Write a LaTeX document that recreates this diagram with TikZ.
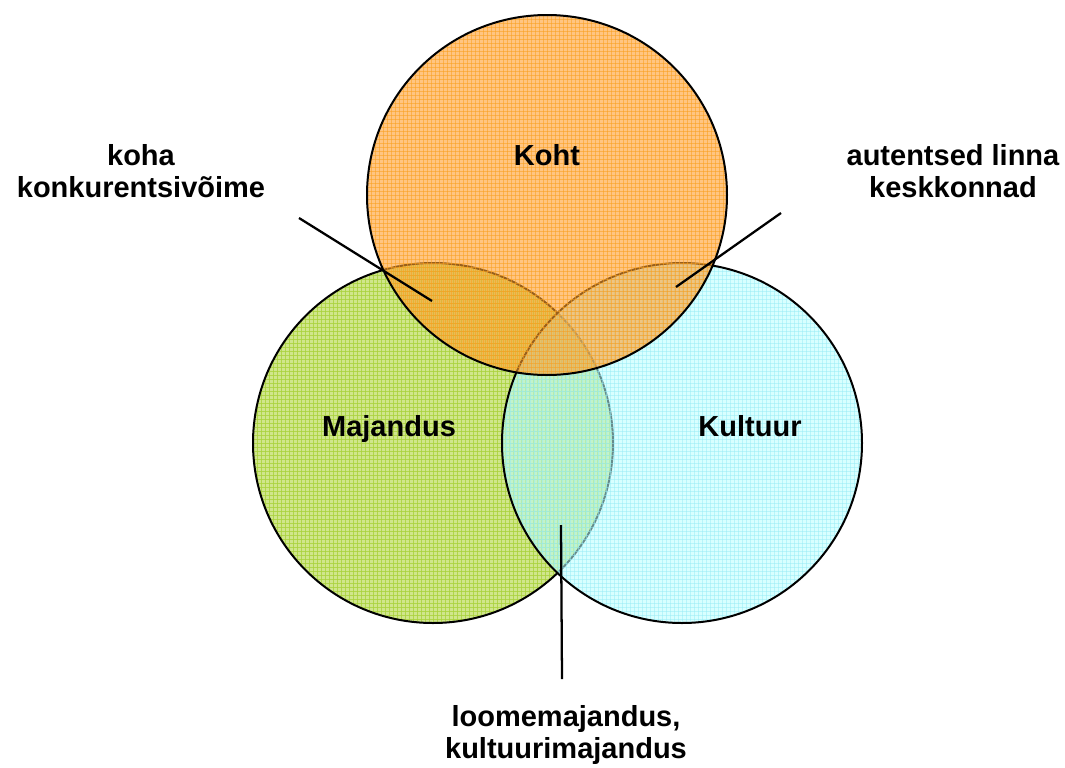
\documentclass[tikz,border=0pt]{standalone}
\usepackage{fontspec}
\setmainfont{Liberation Sans}
\definecolor{majfill}{RGB}{208,230,140}
\definecolor{majgrid}{RGB}{170,210,60}
\definecolor{kulfill}{RGB}{184,255,255}
\definecolor{kulgrid}{RGB}{150,235,245}
\definecolor{kohfill}{RGB}{255,159,46}
\definecolor{kohgrid}{RGB}{250,160,30}
\tikzset{
  lbl/.style={font=\bfseries\fontsize{21.75}{24}\selectfont, align=center, anchor=base, inner sep=0pt},
  ring/.style={draw=black, line width=1.5pt},
  pointer/.style={draw=black, line width=1.7pt},
}
\begin{document}
\begin{tikzpicture}[x=0.75pt,y=-0.75pt]
\useasboundingbox (0,0) rectangle (1065,768);
% Majandus
\fill[majfill] (433,443) circle (180);
\begin{scope}
\clip (433,443) circle (180);
\foreach \i in {0,4,...,360} {
  \draw[majgrid, line width=0.4pt, opacity=0.8] ({253+\i},263) -- ({253+\i},623);
  \draw[majgrid, line width=0.4pt, opacity=0.8] (253,{263+\i}) -- (613,{263+\i});
}
\end{scope}
\draw[ring] (433,443) circle (180);
% Kultuur
\fill[kulfill, fill opacity=0.55] (682,443) circle (180);
\begin{scope}
\clip (682,443) circle (180);
\foreach \i in {0,4,...,360} {
  \draw[kulgrid, line width=0.4pt, opacity=0.5] ({502+\i},263) -- ({502+\i},623);
  \draw[kulgrid, line width=0.4pt, opacity=0.5] (502,{263+\i}) -- (862,{263+\i});
}
\end{scope}
\draw[ring] (682,443) circle (180);
% Koht
\fill[kohfill, fill opacity=0.6] (547,195) circle (180);
\begin{scope}
\clip (547,195) circle (180);
\foreach \i in {0,4,...,360} {
  \draw[kohgrid, line width=0.4pt, opacity=0.55] ({367+\i},15) -- ({367+\i},375);
  \draw[kohgrid, line width=0.4pt, opacity=0.55] (367,{15+\i}) -- (727,{15+\i});
}
\end{scope}
\draw[ring] (547,195) circle (180);
% circle labels
\node[lbl] (koht) at (547,165) {Koht};
\node[lbl] (majandus) at (389,436) {Majandus};
\node[lbl] (kultuur) at (750,436) {Kultuur};
% outer labels (anchor at baseline of last line)
\node[lbl] (lkoha) at (141,197) {koha\\konkurentsivõime};
\node[lbl] (lauth) at (953,197) {autentsed linna\\keskkonnad};
\node[lbl] (lloome) at (566,758) {loomemajandus,\\kultuurimajandus};
% pointer ends
\coordinate (p1s) at (299,218);
\coordinate (p1e) at (432,301);
\coordinate (p2s) at (781,213);
\coordinate (p2e) at (676,287);
\coordinate (p3s) at (562,679);
\coordinate (p3e) at (561,525);
\draw[pointer] (p1s) -- (p1e);
\draw[pointer] (p2s) -- (p2e);
\draw[pointer] (p3s) -- (p3e);
\end{tikzpicture}
\end{document}
